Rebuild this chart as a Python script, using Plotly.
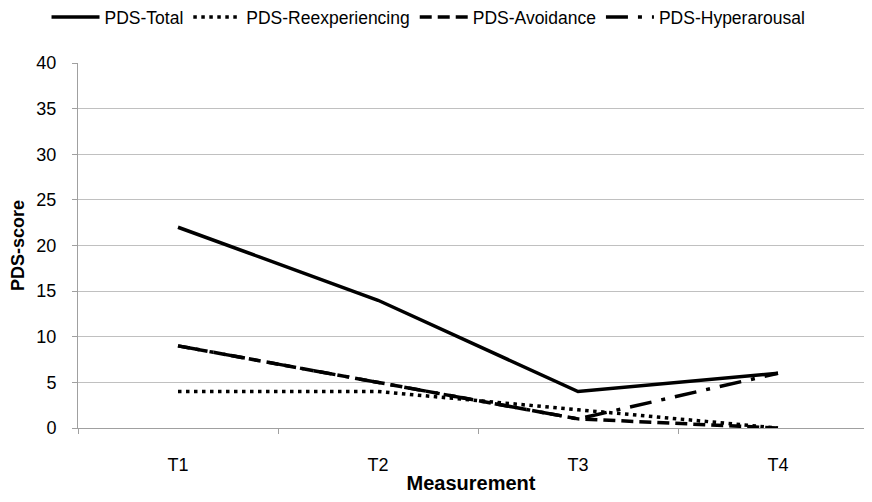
import plotly.graph_objects as go

categories = ["T1", "T2", "T3", "T4"]
pds_total = [22, 14, 4, 6]
pds_reexperiencing = [4, 4, 2, 0]
pds_avoidance = [9, 5, 1, 0]
pds_hyperarousal = [9, 5, 1, 6]
y_ticks = [0, 5, 10, 15, 20, 25, 30, 35, 40]

series = [
    ("PDS-Total", pds_total, "solid"),
    ("PDS-Reexperiencing", pds_reexperiencing, "3.5px,4.5px"),
    ("PDS-Avoidance", pds_avoidance, "12px,6px"),
    ("PDS-Hyperarousal", pds_hyperarousal, "22px,10px,4px,10px"),
]

fig = go.Figure()
for name, vals, dash in series:
    fig.add_trace(go.Scatter(
        x=categories, y=vals, name=name, mode="lines",
        line=dict(color="black", width=3.5, dash=dash),
    ))

# page body has an 8px margin, so the figure is 16px smaller than the window
W, H = 856, 486
font = "Liberation Sans"
fig.update_layout(
    width=W, height=H,
    margin=dict(l=70, r=0, t=55, b=66, autoexpand=False),
    paper_bgcolor="white", plot_bgcolor="white",
    font=dict(family=font, size=18, color="black"),
    legend=dict(orientation="h", x=0.045, xanchor="left", y=1 - 9 / H, yanchor="middle",
                yref="container", xref="container", font=dict(size=17.5),
                itemwidth=48, tracegroupgap=0),
    showlegend=True,
)
fig.update_xaxes(
    type="category", range=[-0.5, 3.43], tickson="boundaries",
    ticks="outside", ticklen=5, tickcolor="#a0a0a0",
    showline=True, linecolor="#a0a0a0", linewidth=1,
    showgrid=False, automargin=False, ticklabelstandoff=20,
    title=dict(text="<b>Measurement</b>", font=dict(size=20), standoff=12),
)
fig.update_yaxes(
    range=[0, 40], tickvals=y_ticks,
    ticks="outside", ticklen=5, tickcolor="#a0a0a0",
    showline=True, linecolor="#a0a0a0", linewidth=1,
    showgrid=True, gridcolor="#c0c0c0", gridwidth=1,
    zeroline=False, automargin=False, ticklabelstandoff=12,
    title=dict(text="<b>PDS-score</b>", font=dict(size=18), standoff=8),
)
fig.write_html("out.html")
